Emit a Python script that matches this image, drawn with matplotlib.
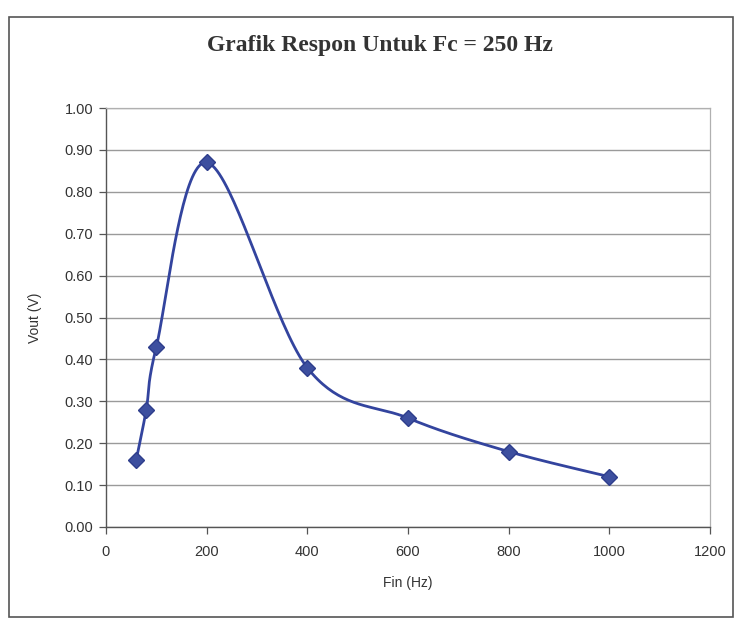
import numpy as np
import matplotlib
matplotlib.use("Agg")
import matplotlib.pyplot as plt
from matplotlib.patches import Rectangle

# Measured response of the filter (Fc = 250 Hz)
fin_hz = [60, 80, 100, 200, 400, 600, 800, 1000]
vout_v = [0.16, 0.28, 0.43, 0.87, 0.38, 0.26, 0.18, 0.12]
x_ticks = [0, 200, 400, 600, 800, 1000, 1200]
y_ticks = [0.0, 0.1, 0.2, 0.3, 0.4, 0.5, 0.6, 0.7, 0.8, 0.9, 1.0]

W, H, DPI = 741, 620, 100
fig = plt.figure(figsize=(W / DPI, H / DPI), dpi=DPI)
fig.patch.set_facecolor("white")

# plot area in pixel coordinates
left, right, top, bottom = 106, 710, 108, 527
ax = fig.add_axes([left / W, 1 - bottom / H, (right - left) / W, (bottom - top) / H])
ax.set_xlim(0, 1200)
ax.set_ylim(0, 1.0)


def smooth_curve(x, y, n=40):
    """Spreadsheet-style smoothed line: cubic Bezier segments with
    Catmull-Rom control points, computed in display space."""
    pts = ax.transData.transform(np.column_stack([x, y]))
    m = len(pts)
    out = []
    for i in range(m - 1):
        p0 = pts[i - 1] if i > 0 else pts[i]
        p1 = pts[i]
        p2 = pts[i + 1]
        p3 = pts[i + 2] if i + 2 < m else pts[i + 1]
        c1 = p1 + (p2 - p0) / 6.0
        c2 = p2 - (p3 - p1) / 6.0
        t = np.linspace(0, 1, n)[:, None]
        seg = ((1 - t) ** 3) * p1 + 3 * ((1 - t) ** 2) * t * c1 + 3 * (1 - t) * t ** 2 * c2 + t ** 3 * p2
        out.append(seg if i == 0 else seg[1:])
    curve = np.vstack(out)
    return ax.transData.inverted().transform(curve)


curve = smooth_curve(fin_hz, vout_v)
ax.plot(curve[:, 0], curve[:, 1], color="#33449e", lw=2.0, zorder=3, solid_capstyle="round")
ax.plot(fin_hz, vout_v, linestyle="none", marker="D", markersize=8.5,
        color="#3d4f9f", markeredgecolor="#2e3d8c", zorder=4)

ax.set_xticks(x_ticks)
ax.set_yticks(y_ticks)
ax.set_yticklabels([f"{v:.2f}" for v in y_ticks])
ax.grid(axis="y", color="#9a9a9a", lw=1.0, ls="-")
ax.set_axisbelow(True)

for s in ["top", "right"]:
    ax.spines[s].set_color("#b0b0b0")
    ax.spines[s].set_linewidth(0.9)
for s in ["left", "bottom"]:
    ax.spines[s].set_color("#555555")
    ax.spines[s].set_linewidth(1.0)

tick_family = ["Liberation Sans", "DejaVu Sans"]
for lab in ax.get_xticklabels() + ax.get_yticklabels():
    lab.set_fontfamily(tick_family)
    lab.set_fontsize(10.5)
    lab.set_color("#333333")
ax.tick_params(axis="both", direction="out", length=5, width=0.9, color="#555555")
ax.tick_params(axis="x", pad=8)
ax.tick_params(axis="y", pad=4)

fig.text(35 / W, 1 - 318 / H, "Vout (V)", rotation=90, ha="center", va="center",
         fontsize=10, color="#333333", family=tick_family)
fig.text(408 / W, 1 - 583 / H, "Fin (Hz)", ha="center", va="center",
         fontsize=10, color="#333333", family=tick_family)
fig.text(380 / W, 1 - 46 / H, "Grafik Respon Untuk Fc = 250 Hz", ha="center", va="center",
         fontsize=17, fontweight="bold", color="#333333",
         family=["Liberation Serif", "DejaVu Serif"])

# outer chart border
fig.add_artist(Rectangle((9 / W, 1 - 617 / H), (733 - 9) / W, (617 - 17) / H,
                         transform=fig.transFigure, fill=False, edgecolor="#555555", lw=1.2))

fig.savefig("out.png", dpi=DPI, facecolor="white")
